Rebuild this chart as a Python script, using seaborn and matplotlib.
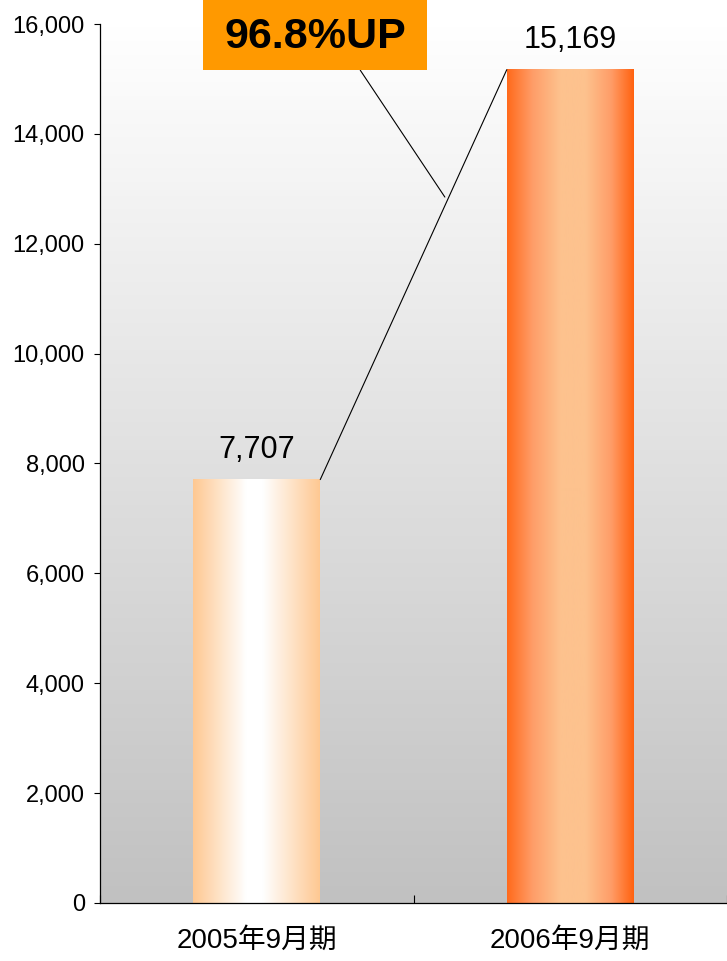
import matplotlib
matplotlib.use("Agg")
import matplotlib.pyplot as plt
import numpy as np
import pandas as pd
import seaborn as sns
from matplotlib.colors import LinearSegmentedColormap
from matplotlib.patches import Rectangle
from matplotlib.ticker import FuncFormatter, FixedLocator

categories = ["2005年9月期", "2006年9月期"]
values = [7707, 15169]
value_labels = ["7,707", "15,169"]
growth_label = "96.8%UP"

sns.set_style("ticks")
plt.rcParams["font.family"] = ["Liberation Sans", "Noto Sans CJK JP", "DejaVu Sans"]
for key in ["text.color", "xtick.color", "ytick.color", "axes.labelcolor"]:
    plt.rcParams[key] = "black"

df = pd.DataFrame({"period": categories, "sales": values})

fig = plt.figure(figsize=(7.27, 9.61), dpi=100)
ax = fig.add_axes([0.1376, 0.0604, 0.8624, 0.9146])
ax.set_facecolor("none")

sns.barplot(data=df, x="period", y="sales", width=0.405, ax=ax, color="white", saturation=1)

# gray vertical gradient behind everything
bg = LinearSegmentedColormap.from_list("bg", ["#c1c1c1", "#ffffff"])
ax.imshow(np.linspace(0, 1, 256).reshape(-1, 1), cmap=bg, origin="lower",
          extent=[-0.5, 1.5, 0, 16000], aspect="auto", zorder=0)

# horizontal gradients on the bars
bar_maps = [
    LinearSegmentedColormap.from_list("b1", [(0, "#fec892"), (0.42, "#ffffff"),
                                             (0.55, "#ffffff"), (1, "#fec892")]),
    LinearSegmentedColormap.from_list("b2", [(0, "#ff6a1c"), (0.2, "#ff9d68"),
                                             (0.42, "#fdc28e"), (0.62, "#fdc28e"),
                                             (0.82, "#ff9d68"), (1, "#ff6210")]),
]
for patch, cmap in zip(ax.patches, bar_maps):
    x0, w, h = patch.get_x(), patch.get_width(), patch.get_height()
    patch.set_visible(False)
    ax.imshow(np.linspace(0, 1, 256).reshape(1, -1), cmap=cmap,
              extent=[x0, x0 + w, 0, h], aspect="auto", zorder=2)

# value labels
for i, (v, lab) in enumerate(zip(values, value_labels)):
    ax.text(i, v + 390, lab, ha="center", va="baseline", fontsize=22, zorder=4)

# connector between bar tops
w = 0.405
ax.plot([0 + w / 2, 1 - w / 2], [values[0], values[1]], color="black", lw=0.8, zorder=3)

# callout box
ax.add_patch(Rectangle((-0.171, 15160), 0.714, 1290, facecolor="#ff9900",
                       edgecolor="none", clip_on=False, zorder=5))
ax.text(0.186, 15760, growth_label, ha="center", va="center", fontsize=31,
        fontweight="bold", zorder=6, clip_on=False)
ax.plot([0.33, 0.60], [15160, 12850], color="black", lw=0.8, zorder=3)

ax.set_xlim(-0.5, 1.5)
ax.set_ylim(0, 16000)
ax.set_yticks(range(0, 16001, 2000))
ax.yaxis.set_major_formatter(FuncFormatter(lambda v, p: f"{int(v):,}"))
ax.tick_params(axis="y", direction="out", length=4, width=0.8, pad=7, labelsize=17)
ax.tick_params(axis="x", which="major", length=0, pad=18, labelsize=20)
ax.xaxis.set_minor_locator(FixedLocator([-0.5, 0.5, 1.5]))
ax.tick_params(axis="x", which="minor", direction="in", length=6, width=0.8)
ax.set_xlabel("")
ax.set_ylabel("")

for s in ["top", "right"]:
    ax.spines[s].set_visible(False)
for s in ["left", "bottom"]:
    ax.spines[s].set_color("black")
    ax.spines[s].set_linewidth(0.9)
    ax.spines[s].set_zorder(7)

fig.savefig("out.png", dpi=100)
